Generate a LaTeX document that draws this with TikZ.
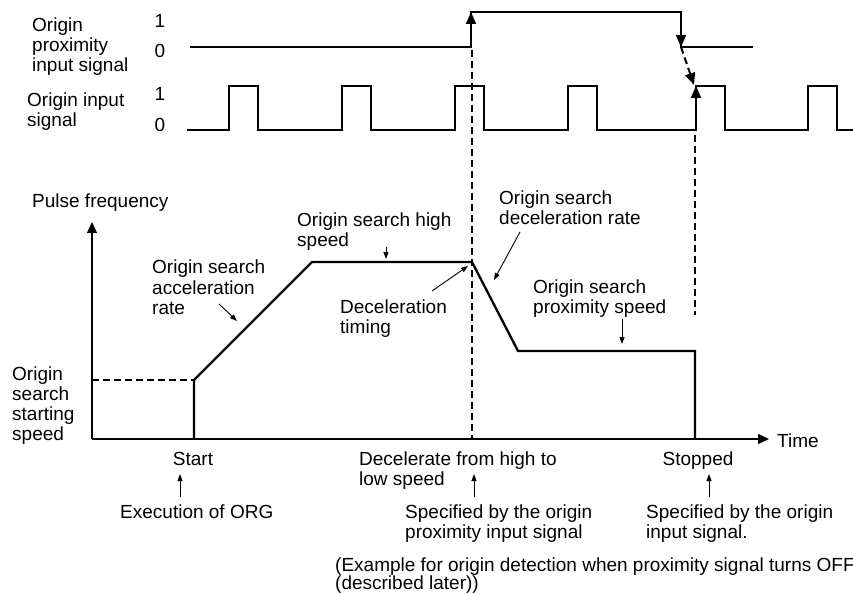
\documentclass[tikz,border=0pt]{standalone}
\usepackage{fontspec}
\setmainfont{Liberation Sans}
\usetikzlibrary{positioning}
\usetikzlibrary{arrows.meta}
\tikzset{wave/.style = {line width=2pt, line join=miter}}
\tikzset{dashline/.style = {line width=2pt, dash pattern=on 7pt off 4pt}}
\tikzset{sigtip/.style = {line width=2pt, -{Triangle[length=12pt,width=10pt]}}}
\tikzset{pointer/.style = {line width=0.9pt, -{Triangle[length=7pt,width=5pt]}}}
\tikzset{axis/.style = {line width=1.3pt, -{Triangle[length=11pt,width=10pt]}}}
\tikzset{lbl/.style = {anchor=base west, inner sep=0, align=left,
                       font=\fontsize{19}{20}\selectfont}}
\tikzset{lblc/.style = {lbl, anchor=base}}

\begin{document}
\begin{tikzpicture}[x=1pt, y=-1pt]
  \useasboundingbox (0,0) rectangle (853,593);

  % timing signals (multi-line labels sit on their last baseline)
  \node[lbl] (proxname) at (32,72) {Origin\\proximity\\input signal};
  \node[lblc] (prox1) at (160,28) {1};
  \node[lblc] (prox0) at (160,58) {0};
  \node[lbl] (orgname) at (27,127) {Origin input\\signal};
  \node[lblc] (org1) at (160,101) {1};
  \node[lblc] (org0) at (160,132) {0};

  \coordinate (pa) at (190,47);
  \coordinate (pb) at (471,47);
  \coordinate (pc) at (471,12);
  \coordinate (pd) at (681,12);
  \coordinate (pe) at (681,47);
  \coordinate (pf) at (753,47);
  \coordinate (qa) at (696,130);
  \coordinate (qb) at (696,86);
  \draw[wave] (pa) -- (pb) -- (pc) -- (pd) -- (pe) -- (pf);
  \draw[wave] (187,130)
    \foreach \x in {229,342,455,568,696,808} { -- (\x,130) -- (\x,86) -- (\x+29,86) -- (\x+29,130) }
    -- (853,130);
  \draw[sigtip] (pb) -- (pc);
  \draw[sigtip] (pd) -- (pe);
  \draw[sigtip] (qa) -- (qb);
  \draw[dashline, -{Triangle[length=12pt,width=10pt]}] (pe) -- (694,85);

  % pulse frequency graph
  \coordinate (o) at (92,439);
  \coordinate (ytop) at (92,222);
  \coordinate (xend) at (769,439);
  \coordinate (st0) at (194,439);
  \coordinate (st1) at (194,380);
  \coordinate (sl) at (92,380);
  \coordinate (hs0) at (312,262);
  \coordinate (hs1) at (472,262);
  \coordinate (ls0) at (518,351);
  \coordinate (ls1) at (695,351);
  \coordinate (sp0) at (695,439);
  \draw[axis] (o) -- (ytop);
  \draw[axis] (o) -- (xend);
  \draw[dashline] (sl) -- (st1);
  \draw[wave, line width=2.3pt] (st0) -- (st1) -- (hs0) -- (hs1) -- (ls0) -- (ls1) -- (sp0);
  \draw[dashline] (472,50) -- (472,439);
  \draw[dashline] (695,135) -- (695,315);

  \node[lbl] (pulse) at (32,208) {Pulse frequency};
  \node[lbl] (time) at (777,447) {Time};
  \node[lbl] (accel) at (152,314) {Origin search\\acceleration\\rate};
  \node[lbl] (high) at (297,247) {Origin search high\\speed};
  \node[lbl] (dtime) at (340,333) {Deceleration\\timing};
  \node[lbl] (decel) at (499,225) {Origin search\\deceleration rate};
  \node[lbl] (near) at (533,313) {Origin search\\proximity speed};
  \node[lbl] (startspd) at (12,440) {Origin\\search\\starting\\speed};

  \draw[pointer] (219,304) -- (237,321);
  \draw[pointer] (386,247) -- (386,259);
  \draw[pointer] (432,291) -- (468,266);
  \draw[pointer] (520,232) -- (494,280);
  \draw[pointer] (622,319) -- (622,344);

  % events under the time axis
  \node[lblc] (start) at (193,465) {Start};
  \node[lbl] (slow) at (359,485) {Decelerate from high to\\low speed};
  \node[lblc] (stop) at (698,465) {Stopped};
  \node[lbl] (exec) at (120,518) {Execution of ORG};
  \node[lbl] (byprox) at (405,538) {Specified by the origin\\proximity input signal};
  \node[lbl] (byorg) at (646,538) {Specified by the origin\\input signal.};
  \node[lbl, font=\fontsize{19}{18}\selectfont] (note) at (335,589)
    {(Example for origin detection when proximity signal turns OFF\\(described later))};

  \draw[pointer] (180,497) -- (180,474);
  \draw[pointer] (474,497) -- (474,474);
  \draw[pointer] (709,497) -- (709,474);
\end{tikzpicture}
\end{document}
